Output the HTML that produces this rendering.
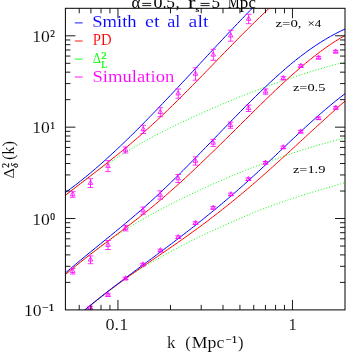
<!DOCTYPE html>
<html><head><meta charset="utf-8"><title>plot</title>
<style>html,body{margin:0;padding:0;background:#fff;}body{width:353px;height:353px;overflow:hidden;position:relative;font-family:"Liberation Serif",serif;}</style>
</head><body>
<svg width="353" height="353" viewBox="0 0 353 353" style="position:absolute;left:0;top:0;will-change:transform">
<defs><clipPath id="c"><rect x="65.40" y="8.30" width="279.60" height="301.60"/></clipPath></defs>
<text x="32.20" y="41.90" font-size="16.50" fill="#000" text-anchor="start" stroke="#fff" stroke-width="0.10" font-family="Liberation Serif, serif" textLength="17.6" lengthAdjust="spacingAndGlyphs" >10</text>
<text x="50.30" y="37.00" font-size="9.50" fill="#000" text-anchor="start" stroke="#000" stroke-width="0.2" font-family="Liberation Serif, serif" >2</text>
<text x="32.20" y="133.40" font-size="16.50" fill="#000" text-anchor="start" stroke="#fff" stroke-width="0.10" font-family="Liberation Serif, serif" textLength="17.6" lengthAdjust="spacingAndGlyphs" >10</text>
<text x="50.30" y="128.50" font-size="9.50" fill="#000" text-anchor="start" stroke="#000" stroke-width="0.2" font-family="Liberation Serif, serif" >1</text>
<text x="32.20" y="224.60" font-size="16.50" fill="#000" text-anchor="start" stroke="#fff" stroke-width="0.10" font-family="Liberation Serif, serif" textLength="17.6" lengthAdjust="spacingAndGlyphs" >10</text>
<text x="50.30" y="219.70" font-size="9.50" fill="#000" text-anchor="start" stroke="#000" stroke-width="0.2" font-family="Liberation Serif, serif" >0</text>
<text x="24.00" y="315.90" font-size="16.50" fill="#000" text-anchor="start" stroke="#fff" stroke-width="0.10" font-family="Liberation Serif, serif" textLength="17.6" lengthAdjust="spacingAndGlyphs" >10</text>
<text x="42.00" y="311.00" font-size="9.50" fill="#000" text-anchor="start" stroke="#000" stroke-width="0.2" font-family="Liberation Serif, serif" textLength="12.5" lengthAdjust="spacingAndGlyphs" >−1</text>
<text x="105.50" y="329.80" font-size="16.50" fill="#000" text-anchor="start" stroke="#fff" stroke-width="0.10" font-family="Liberation Serif, serif" textLength="22.8" lengthAdjust="spacingAndGlyphs" >0.1</text>
<text x="288.60" y="329.80" font-size="16.50" fill="#000" text-anchor="start" stroke="#fff" stroke-width="0.10" font-family="Liberation Serif, serif" textLength="8.3" lengthAdjust="spacingAndGlyphs" >1</text>
<text x="167.00" y="348.40" font-size="16.50" fill="#000" text-anchor="start" stroke="#fff" stroke-width="0.10" font-family="Liberation Serif, serif" textLength="8.5" lengthAdjust="spacingAndGlyphs" >k</text>
<text x="185.30" y="348.40" font-size="16.50" fill="#000" text-anchor="start" stroke="#fff" stroke-width="0.10" font-family="Liberation Serif, serif" textLength="5.5" lengthAdjust="spacingAndGlyphs" >(</text>
<text x="191.70" y="348.40" font-size="16.50" fill="#000" text-anchor="start" stroke="#fff" stroke-width="0.10" font-family="Liberation Serif, serif" textLength="32.6" lengthAdjust="spacingAndGlyphs" >Mpc</text>
<text x="225.60" y="343.30" font-size="9.50" fill="#000" text-anchor="start" stroke="#000" stroke-width="0.2" font-family="Liberation Serif, serif" textLength="11.5" lengthAdjust="spacingAndGlyphs" >−1</text>
<text x="238.00" y="348.40" font-size="16.50" fill="#000" text-anchor="start" stroke="#fff" stroke-width="0.10" font-family="Liberation Serif, serif" textLength="5.5" lengthAdjust="spacingAndGlyphs" >)</text>
<text x="131.60" y="7.70" font-size="16.50" fill="#000" text-anchor="start"  font-family="Liberation Serif, serif" textLength="8.8" lengthAdjust="spacingAndGlyphs" >α</text>
<text x="153.40" y="7.70" font-size="16.50" fill="#000" text-anchor="start"  font-family="Liberation Serif, serif" textLength="9.0" lengthAdjust="spacingAndGlyphs" >0</text>
<text x="162.80" y="7.70" font-size="16.50" fill="#000" text-anchor="start"  font-family="Liberation Serif, serif" textLength="3.6" lengthAdjust="spacingAndGlyphs" >.</text>
<text x="166.30" y="7.70" font-size="16.50" fill="#000" text-anchor="start"  font-family="Liberation Serif, serif" textLength="8.7" lengthAdjust="spacingAndGlyphs" >5</text>
<text x="175.70" y="7.70" font-size="16.50" fill="#000" text-anchor="start"  font-family="Liberation Serif, serif" textLength="3.8" lengthAdjust="spacingAndGlyphs" >,</text>
<text x="187.90" y="7.70" font-size="16.50" fill="#000" text-anchor="start"  font-family="Liberation Serif, serif" textLength="7.5" lengthAdjust="spacingAndGlyphs" >r</text>
<text x="195.40" y="12.20" font-size="9.00" fill="#000" text-anchor="start" stroke="#000" stroke-width="0.2" font-family="Liberation Serif, serif" textLength="3.8" lengthAdjust="spacingAndGlyphs" >s</text>
<text x="211.50" y="7.70" font-size="16.50" fill="#000" text-anchor="start"  font-family="Liberation Serif, serif" textLength="8.5" lengthAdjust="spacingAndGlyphs" >5</text>
<text x="228.10" y="7.70" font-size="16.50" fill="#000" text-anchor="start"  font-family="Liberation Serif, serif" textLength="11.5" lengthAdjust="spacingAndGlyphs" >M</text>
<text x="239.70" y="7.70" font-size="16.50" fill="#000" text-anchor="start"  font-family="Liberation Serif, serif" textLength="8.5" lengthAdjust="spacingAndGlyphs" >p</text>
<text x="248.40" y="7.70" font-size="16.50" fill="#000" text-anchor="start"  font-family="Liberation Serif, serif" textLength="7.4" lengthAdjust="spacingAndGlyphs" >c</text>
<path d="M142.2,3.4 h9 M142.2,5.6 h9 M200.5,3.4 h9.1 M200.5,5.6 h9.1" stroke="#000" stroke-width="0.9" fill="none"/>
<g transform="translate(14,178.6) rotate(-90)">
<text x="0.00" y="0.00" font-size="15.50" fill="#000" text-anchor="start" stroke="#fff" stroke-width="0.10" font-family="Liberation Serif, serif" textLength="10.3" lengthAdjust="spacingAndGlyphs" >Δ</text>
<text x="10.80" y="-5.00" font-size="9.50" fill="#000" text-anchor="start" stroke="#000" stroke-width="0.2" font-family="Liberation Serif, serif" >2</text>
<text x="10.80" y="3.50" font-size="9.50" fill="#000" text-anchor="start" stroke="#000" stroke-width="0.2" font-family="Liberation Serif, serif" font-style="italic">δ</text>
<text x="18.50" y="0.00" font-size="16.50" fill="#000" text-anchor="start" stroke="#fff" stroke-width="0.10" font-family="Liberation Serif, serif" textLength="19.0" lengthAdjust="spacingAndGlyphs" >(k)</text>
</g>
<path d="M74.8,22.90 h7.9" stroke="#0000ff" stroke-width="0.9"/>
<path d="M74.8,41.00 h7.9" stroke="#ff0000" stroke-width="0.9"/>
<path d="M74.8,59.10 h7.9" stroke="#00ff00" stroke-width="0.9"/>
<path d="M74.8,77.00 h7.9" stroke="#ff00ff" stroke-width="0.9"/>
<text x="92.30" y="27.40" font-size="15.80" fill="#0000ff" text-anchor="start" stroke="#fff" stroke-width="0.10" font-family="Liberation Serif, serif" textLength="44.3" lengthAdjust="spacingAndGlyphs" >Smith</text>
<text x="145.00" y="27.40" font-size="15.80" fill="#0000ff" text-anchor="start" stroke="#fff" stroke-width="0.10" font-family="Liberation Serif, serif" textLength="14.5" lengthAdjust="spacingAndGlyphs" >et</text>
<text x="167.30" y="27.40" font-size="15.80" fill="#0000ff" text-anchor="start" stroke="#fff" stroke-width="0.10" font-family="Liberation Serif, serif" textLength="13.1" lengthAdjust="spacingAndGlyphs" >al</text>
<text x="188.60" y="27.40" font-size="15.80" fill="#0000ff" text-anchor="start" stroke="#fff" stroke-width="0.10" font-family="Liberation Serif, serif" textLength="19.8" lengthAdjust="spacingAndGlyphs" >alt</text>
<text x="92.80" y="45.40" font-size="15.80" fill="#ff0000" text-anchor="start" stroke="#fff" stroke-width="0.10" font-family="Liberation Serif, serif" textLength="18.8" lengthAdjust="spacingAndGlyphs" >PD</text>
<text x="92.70" y="63.40" font-size="15.00" fill="#00ff00" text-anchor="start" stroke="#fff" stroke-width="0.10" font-family="Liberation Serif, serif" textLength="8.2" lengthAdjust="spacingAndGlyphs" >Δ</text>
<text x="101.20" y="59.20" font-size="9.30" fill="#00ff00" text-anchor="start" stroke="#00ff00" stroke-width="0.2" font-family="Liberation Serif, serif" textLength="5.4" lengthAdjust="spacingAndGlyphs" >2</text>
<text x="101.20" y="67.70" font-size="9.30" fill="#00ff00" text-anchor="start" stroke="#00ff00" stroke-width="0.2" font-family="Liberation Serif, serif" textLength="5.8" lengthAdjust="spacingAndGlyphs" >L</text>
<text x="92.50" y="81.50" font-size="15.80" fill="#ff00ff" text-anchor="start" stroke="#fff" stroke-width="0.10" font-family="Liberation Serif, serif" textLength="81.8" lengthAdjust="spacingAndGlyphs" >Simulation</text>
<text x="275.50" y="27.00" font-size="10.30" fill="#000" text-anchor="start"  font-family="Liberation Serif, serif" textLength="26.0" lengthAdjust="spacingAndGlyphs" >z=0,</text>
<text x="307.50" y="27.00" font-size="10.30" fill="#000" text-anchor="start"  font-family="Liberation Serif, serif" textLength="13.8" lengthAdjust="spacingAndGlyphs" >×4</text>
<text x="292.90" y="91.00" font-size="10.80" fill="#000" text-anchor="start"  font-family="Liberation Serif, serif" textLength="32.5" lengthAdjust="spacingAndGlyphs" >z=0.5</text>
<text x="292.90" y="173.00" font-size="10.80" fill="#000" text-anchor="start"  font-family="Liberation Serif, serif" textLength="32.5" lengthAdjust="spacingAndGlyphs" >z=1.9</text>
<g clip-path="url(#c)" fill="none">
<path d="M65.50,195.47 L68.00,193.36 L70.50,191.29 L73.00,189.25 L75.50,187.24 L78.00,185.25 L80.50,183.29 L83.00,181.36 L85.50,179.46 L88.00,177.58 L90.50,175.73 L93.00,173.90 L95.50,172.10 L98.00,170.33 L100.50,168.58 L103.00,166.85 L105.50,165.15 L108.00,163.47 L110.50,161.81 L113.00,160.17 L115.50,158.56 L118.00,156.97 L120.50,155.40 L123.00,153.85 L125.50,152.31 L128.00,150.80 L130.50,149.31 L133.00,147.84 L135.50,146.39 L138.00,144.95 L140.50,143.53 L143.00,142.13 L145.50,140.74 L148.00,139.38 L150.50,138.02 L153.00,136.69 L155.50,135.36 L158.00,134.06 L160.50,132.76 L163.00,131.48 L165.50,130.22 L168.00,128.96 L170.50,127.72 L173.00,126.49 L175.50,125.27 L178.00,124.07 L180.50,122.87 L183.00,121.69 L185.50,120.51 L188.00,119.35 L190.50,118.19 L193.00,117.04 L195.50,115.90 L198.00,114.77 L200.50,113.64 L203.00,112.52 L205.50,111.41 L208.00,110.31 L210.50,109.21 L213.00,108.12 L215.50,107.04 L218.00,105.97 L220.50,104.90 L223.00,103.84 L225.50,102.78 L228.00,101.74 L230.50,100.70 L233.00,99.67 L235.50,98.65 L238.00,97.63 L240.50,96.62 L243.00,95.63 L245.50,94.63 L248.00,93.65 L250.50,92.67 L253.00,91.71 L255.50,90.75 L258.00,89.79 L260.50,88.85 L263.00,87.91 L265.50,86.99 L268.00,86.07 L270.50,85.16 L273.00,84.25 L275.50,83.36 L278.00,82.48 L280.50,81.60 L283.00,80.73 L285.50,79.87 L288.00,79.02 L290.50,78.18 L293.00,77.34 L295.50,76.52 L298.00,75.70 L300.50,74.89 L303.00,74.10 L305.50,73.31 L308.00,72.53 L310.50,71.76 L313.00,70.99 L315.50,70.24 L318.00,69.50 L320.50,68.77 L323.00,68.04 L325.50,67.33 L328.00,66.62 L330.50,65.92 L333.00,65.24 L335.50,64.56 L338.00,63.89 L340.50,63.23 L343.00,62.59 L345.50,61.95" stroke="#00ff00" stroke-width="1" stroke-dasharray="1,1.9"/>
<path d="M65.50,274.82 L68.00,272.60 L70.50,270.40 L73.00,268.24 L75.50,266.11 L78.00,264.01 L80.50,261.95 L83.00,259.92 L85.50,257.91 L88.00,255.94 L90.50,254.00 L93.00,252.09 L95.50,250.20 L98.00,248.35 L100.50,246.52 L103.00,244.72 L105.50,242.94 L108.00,241.19 L110.50,239.47 L113.00,237.77 L115.50,236.09 L118.00,234.44 L120.50,232.81 L123.00,231.21 L125.50,229.63 L128.00,228.06 L130.50,226.52 L133.00,225.00 L135.50,223.50 L138.00,222.02 L140.50,220.56 L143.00,219.12 L145.50,217.69 L148.00,216.28 L150.50,214.89 L153.00,213.51 L155.50,212.15 L158.00,210.81 L160.50,209.48 L163.00,208.16 L165.50,206.86 L168.00,205.57 L170.50,204.29 L173.00,203.02 L175.50,201.77 L178.00,200.52 L180.50,199.29 L183.00,198.06 L185.50,196.85 L188.00,195.64 L190.50,194.44 L193.00,193.25 L195.50,192.07 L198.00,190.90 L200.50,189.74 L203.00,188.58 L205.50,187.44 L208.00,186.30 L210.50,185.17 L213.00,184.05 L215.50,182.94 L218.00,181.84 L220.50,180.75 L223.00,179.67 L225.50,178.59 L228.00,177.52 L230.50,176.47 L233.00,175.42 L235.50,174.38 L238.00,173.35 L240.50,172.33 L243.00,171.32 L245.50,170.32 L248.00,169.32 L250.50,168.34 L253.00,167.36 L255.50,166.40 L258.00,165.44 L260.50,164.49 L263.00,163.55 L265.50,162.62 L268.00,161.70 L270.50,160.79 L273.00,159.89 L275.50,159.00 L278.00,158.12 L280.50,157.24 L283.00,156.38 L285.50,155.52 L288.00,154.68 L290.50,153.84 L293.00,153.02 L295.50,152.20 L298.00,151.39 L300.50,150.59 L303.00,149.80 L305.50,149.03 L308.00,148.26 L310.50,147.50 L313.00,146.75 L315.50,146.01 L318.00,145.27 L320.50,144.55 L323.00,143.84 L325.50,143.14 L328.00,142.45 L330.50,141.76 L333.00,141.09 L335.50,140.43 L338.00,139.78 L340.50,139.13 L343.00,138.50 L345.50,137.88" stroke="#00ff00" stroke-width="1" stroke-dasharray="1,1.9"/>
<path d="M84.70,310.18 L87.21,308.26 L89.72,306.33 L92.22,304.37 L94.73,302.39 L97.24,300.41 L99.75,298.41 L102.25,296.42 L104.76,294.42 L107.27,292.43 L109.78,290.46 L112.28,288.49 L114.79,286.55 L117.30,284.64 L119.81,282.75 L122.32,280.89 L124.82,279.08 L127.33,277.31 L129.84,275.58 L132.35,273.91 L134.85,272.28 L137.36,270.70 L139.87,269.15 L142.38,267.64 L144.88,266.16 L147.39,264.71 L149.90,263.27 L152.41,261.85 L154.92,260.44 L157.42,259.04 L159.93,257.64 L162.44,256.23 L164.95,254.83 L167.45,253.43 L169.96,252.04 L172.47,250.66 L174.98,249.29 L177.48,247.94 L179.99,246.61 L182.50,245.30 L185.01,244.01 L187.52,242.74 L190.02,241.49 L192.53,240.24 L195.04,239.01 L197.55,237.80 L200.05,236.59 L202.56,235.39 L205.07,234.20 L207.58,233.02 L210.08,231.85 L212.59,230.69 L215.10,229.54 L217.61,228.39 L220.12,227.25 L222.62,226.12 L225.13,224.99 L227.64,223.86 L230.15,222.75 L232.65,221.63 L235.16,220.52 L237.67,219.41 L240.18,218.31 L242.68,217.21 L245.19,216.14 L247.70,215.07 L250.21,214.03 L252.72,213.00 L255.22,211.99 L257.73,210.99 L260.24,210.01 L262.75,209.04 L265.25,208.09 L267.76,207.15 L270.27,206.22 L272.78,205.31 L275.28,204.41 L277.79,203.52 L280.30,202.64 L282.81,201.78 L285.32,200.92 L287.82,200.08 L290.33,199.24 L292.84,198.41 L295.35,197.60 L297.85,196.79 L300.36,195.99 L302.87,195.19 L305.38,194.41 L307.88,193.63 L310.39,192.86 L312.90,192.09 L315.41,191.33 L317.92,190.57 L320.42,189.82 L322.93,189.07 L325.44,188.33 L327.95,187.59 L330.45,186.85 L332.96,186.11 L335.47,185.38 L337.98,184.65 L340.48,183.92 L342.99,183.19 L345.50,182.46" stroke="#00ff00" stroke-width="1" stroke-dasharray="1,1.9"/>
<path d="M65.50,195.21 L67.99,193.29 L70.48,191.37 L72.97,189.45 L75.45,187.53 L77.94,185.62 L80.43,183.70 L82.92,181.79 L85.41,179.87 L87.90,177.95 L90.38,176.03 L92.87,174.10 L95.36,172.17 L97.85,170.23 L100.34,168.29 L102.83,166.34 L105.31,164.38 L107.80,162.41 L110.29,160.42 L112.78,158.43 L115.27,156.43 L117.76,154.41 L120.24,152.38 L122.73,150.34 L125.22,148.28 L127.71,146.20 L130.20,144.10 L132.69,141.99 L135.17,139.86 L137.66,137.71 L140.15,135.53 L142.64,133.34 L145.13,131.12 L147.62,128.89 L150.10,126.63 L152.59,124.35 L155.08,122.06 L157.57,119.74 L160.06,117.41 L162.55,115.05 L165.03,112.68 L167.52,110.30 L170.01,107.89 L172.50,105.48 L174.99,103.04 L177.48,100.59 L179.97,98.12 L182.45,95.64 L184.94,93.15 L187.43,90.65 L189.92,88.13 L192.41,85.61 L194.90,83.07 L197.38,80.53 L199.87,77.98 L202.36,75.43 L204.85,72.87 L207.34,70.30 L209.83,67.74 L212.31,65.17 L214.80,62.60 L217.29,60.03 L219.78,57.46 L222.27,54.90 L224.76,52.34 L227.24,49.78 L229.73,47.23 L232.22,44.68 L234.71,42.14 L237.20,39.61 L239.69,37.09 L242.17,34.58 L244.66,32.08 L247.15,29.59 L249.64,27.12 L252.13,24.66 L254.62,22.22 L257.10,19.79 L259.59,17.38 L262.08,14.99 L264.57,12.61 L267.06,10.26 L269.55,7.93 L272.03,5.63 L274.52,3.34 L277.01,1.08 L279.50,-1.15" stroke="#ff0000" stroke-width="1"/>
<path d="M65.50,274.40 L68.00,272.29 L70.50,270.21 L73.00,268.15 L75.50,266.12 L78.00,264.11 L80.50,262.11 L83.00,260.14 L85.50,258.18 L88.00,256.24 L90.50,254.31 L93.00,252.39 L95.50,250.48 L98.00,248.59 L100.50,246.70 L103.00,244.82 L105.50,242.94 L108.00,241.07 L110.50,239.20 L113.00,237.32 L115.50,235.45 L118.00,233.58 L120.50,231.70 L123.00,229.82 L125.50,227.93 L128.00,226.03 L130.50,224.12 L133.00,222.20 L135.50,220.27 L138.00,218.33 L140.50,216.37 L143.00,214.39 L145.50,212.39 L148.00,210.38 L150.50,208.34 L153.00,206.28 L155.50,204.20 L158.00,202.09 L160.50,199.97 L163.00,197.82 L165.50,195.66 L168.00,193.48 L170.50,191.28 L173.00,189.06 L175.50,186.82 L178.00,184.57 L180.50,182.30 L183.00,180.02 L185.50,177.72 L188.00,175.40 L190.50,173.07 L193.00,170.73 L195.50,168.38 L198.00,166.01 L200.50,163.64 L203.00,161.25 L205.50,158.85 L208.00,156.44 L210.50,154.03 L213.00,151.60 L215.50,149.17 L218.00,146.73 L220.50,144.28 L223.00,141.83 L225.50,139.37 L228.00,136.90 L230.50,134.43 L233.00,131.96 L235.50,129.48 L238.00,127.01 L240.50,124.52 L243.00,122.04 L245.50,119.56 L248.00,117.08 L250.50,114.60 L253.00,112.12 L255.50,109.65 L258.00,107.19 L260.50,104.73 L263.00,102.29 L265.50,99.85 L268.00,97.42 L270.50,95.01 L273.00,92.62 L275.50,90.23 L278.00,87.87 L280.50,85.52 L283.00,83.19 L285.50,80.89 L288.00,78.60 L290.50,76.34 L293.00,74.10 L295.50,71.89 L298.00,69.71 L300.50,67.56 L303.00,65.43 L305.50,63.34 L308.00,61.28 L310.50,59.25 L313.00,57.26 L315.50,55.31 L318.00,53.39 L320.50,51.51 L323.00,49.68 L325.50,47.88 L328.00,46.13 L330.50,44.42 L333.00,42.76 L335.50,41.14 L338.00,39.58 L340.50,38.06 L343.00,36.59 L345.50,35.18" stroke="#ff0000" stroke-width="1"/>
<path d="M84.70,310.22 L87.21,308.11 L89.72,306.03 L92.22,303.97 L94.73,301.94 L97.24,299.94 L99.75,297.95 L102.25,295.99 L104.76,294.05 L107.27,292.14 L109.78,290.24 L112.28,288.36 L114.79,286.50 L117.30,284.65 L119.81,282.82 L122.32,281.01 L124.82,279.21 L127.33,277.42 L129.84,275.64 L132.35,273.87 L134.85,272.12 L137.36,270.37 L139.87,268.63 L142.38,266.89 L144.88,265.17 L147.39,263.44 L149.90,261.72 L152.41,260.00 L154.92,258.29 L157.42,256.57 L159.93,254.86 L162.44,253.14 L164.95,251.42 L167.45,249.70 L169.96,247.97 L172.47,246.24 L174.98,244.50 L177.48,242.75 L179.99,241.00 L182.50,239.24 L185.01,237.46 L187.52,235.68 L190.02,233.88 L192.53,232.07 L195.04,230.24 L197.55,228.41 L200.05,226.55 L202.56,224.69 L205.07,222.81 L207.58,220.92 L210.08,219.01 L212.59,217.09 L215.10,215.16 L217.61,213.21 L220.12,211.25 L222.62,209.28 L225.13,207.29 L227.64,205.29 L230.15,203.27 L232.65,201.24 L235.16,199.19 L237.67,197.13 L240.18,195.06 L242.68,192.97 L245.19,190.87 L247.70,188.75 L250.21,186.62 L252.72,184.47 L255.22,182.31 L257.73,180.13 L260.24,177.94 L262.75,175.74 L265.25,173.52 L267.76,171.29 L270.27,169.05 L272.78,166.80 L275.28,164.53 L277.79,162.26 L280.30,159.98 L282.81,157.70 L285.32,155.40 L287.82,153.11 L290.33,150.80 L292.84,148.50 L295.35,146.19 L297.85,143.88 L300.36,141.56 L302.87,139.25 L305.38,136.94 L307.88,134.63 L310.39,132.32 L312.90,130.01 L315.41,127.71 L317.92,125.42 L320.42,123.13 L322.93,120.84 L325.44,118.57 L327.95,116.30 L330.45,114.04 L332.96,111.79 L335.47,109.55 L337.98,107.33 L340.48,105.11 L342.99,102.91 L345.50,100.73" stroke="#ff0000" stroke-width="1"/>
<path d="M65.50,192.44 L67.99,190.63 L70.49,188.79 L72.98,186.91 L75.47,185.01 L77.97,183.07 L80.46,181.10 L82.96,179.11 L85.45,177.08 L87.94,175.03 L90.44,172.95 L92.93,170.84 L95.42,168.71 L97.92,166.55 L100.41,164.37 L102.91,162.16 L105.40,159.93 L107.89,157.67 L110.39,155.39 L112.88,153.09 L115.37,150.77 L117.87,148.43 L120.36,146.07 L122.85,143.69 L125.35,141.29 L127.84,138.87 L130.34,136.43 L132.83,133.98 L135.32,131.50 L137.82,129.02 L140.31,126.52 L142.80,124.00 L145.30,121.47 L147.79,118.92 L150.28,116.37 L152.78,113.80 L155.27,111.21 L157.77,108.62 L160.26,106.02 L162.75,103.41 L165.25,100.78 L167.74,98.15 L170.23,95.52 L172.73,92.87 L175.22,90.22 L177.72,87.56 L180.21,84.89 L182.70,82.22 L185.20,79.55 L187.69,76.87 L190.18,74.19 L192.68,71.51 L195.17,68.82 L197.66,66.14 L200.16,63.45 L202.65,60.76 L205.15,58.08 L207.64,55.39 L210.13,52.71 L212.63,50.03 L215.12,47.35 L217.61,44.68 L220.11,42.01 L222.60,39.34 L225.09,36.69 L227.59,34.03 L230.08,31.39 L232.58,28.75 L235.07,26.12 L237.56,23.50 L240.06,20.89 L242.55,18.28 L245.04,15.69 L247.54,13.11 L250.03,10.55 L252.53,7.99 L255.02,5.45 L257.51,2.92 L260.01,0.40 L262.50,-2.10" stroke="#0000ff" stroke-width="1"/>
<path d="M65.50,272.90 L68.00,270.74 L70.50,268.60 L73.00,266.48 L75.50,264.37 L78.00,262.27 L80.50,260.19 L83.00,258.12 L85.50,256.05 L88.00,254.00 L90.50,251.95 L93.00,249.91 L95.50,247.87 L98.00,245.84 L100.50,243.81 L103.00,241.78 L105.50,239.75 L108.00,237.71 L110.50,235.68 L113.00,233.64 L115.50,231.59 L118.00,229.54 L120.50,227.48 L123.00,225.41 L125.50,223.33 L128.00,221.23 L130.50,219.13 L133.00,217.01 L135.50,214.87 L138.00,212.72 L140.50,210.55 L143.00,208.36 L145.50,206.15 L148.00,203.92 L150.50,201.66 L153.00,199.38 L155.50,197.08 L158.00,194.76 L160.50,192.41 L163.00,190.04 L165.50,187.66 L168.00,185.25 L170.50,182.83 L173.00,180.39 L175.50,177.94 L178.00,175.47 L180.50,172.98 L183.00,170.49 L185.50,167.98 L188.00,165.46 L190.50,162.93 L193.00,160.39 L195.50,157.84 L198.00,155.28 L200.50,152.72 L203.00,150.15 L205.50,147.57 L208.00,145.00 L210.50,142.41 L213.00,139.83 L215.50,137.25 L218.00,134.66 L220.50,132.08 L223.00,129.49 L225.50,126.91 L228.00,124.33 L230.50,121.76 L233.00,119.19 L235.50,116.63 L238.00,114.07 L240.50,111.53 L243.00,108.99 L245.50,106.47 L248.00,103.95 L250.50,101.45 L253.00,98.97 L255.50,96.50 L258.00,94.06 L260.50,91.63 L263.00,89.22 L265.50,86.83 L268.00,84.46 L270.50,82.12 L273.00,79.81 L275.50,77.52 L278.00,75.26 L280.50,73.03 L283.00,70.83 L285.50,68.67 L288.00,66.53 L290.50,64.43 L293.00,62.37 L295.50,60.35 L298.00,58.36 L300.50,56.41 L303.00,54.51 L305.50,52.64 L308.00,50.82 L310.50,49.04 L313.00,47.30 L315.50,45.61 L318.00,43.96 L320.50,42.36 L323.00,40.80 L325.50,39.28 L328.00,37.81 L330.50,36.39 L333.00,35.01 L335.50,33.68 L338.00,32.40 L340.50,31.17 L343.00,29.98 L345.50,28.84" stroke="#0000ff" stroke-width="1"/>
<path d="M84.30,310.31 L86.79,308.24 L89.28,306.19 L91.76,304.16 L94.25,302.14 L96.74,300.14 L99.23,298.16 L101.71,296.19 L104.20,294.24 L106.69,292.30 L109.18,290.37 L111.66,288.45 L114.15,286.54 L116.64,284.65 L119.13,282.76 L121.61,280.88 L124.10,279.01 L126.59,277.15 L129.08,275.29 L131.56,273.43 L134.05,271.58 L136.54,269.74 L139.03,267.90 L141.52,266.05 L144.00,264.21 L146.49,262.37 L148.98,260.53 L151.47,258.69 L153.95,256.85 L156.44,255.00 L158.93,253.15 L161.42,251.29 L163.90,249.43 L166.39,247.56 L168.88,245.69 L171.37,243.81 L173.85,241.92 L176.34,240.03 L178.83,238.13 L181.32,236.22 L183.80,234.30 L186.29,232.38 L188.78,230.44 L191.27,228.50 L193.76,226.55 L196.24,224.59 L198.73,222.62 L201.22,220.64 L203.71,218.65 L206.19,216.64 L208.68,214.63 L211.17,212.60 L213.66,210.56 L216.14,208.51 L218.63,206.45 L221.12,204.37 L223.61,202.28 L226.09,200.18 L228.58,198.06 L231.07,195.93 L233.56,193.79 L236.04,191.63 L238.53,189.45 L241.02,187.26 L243.51,185.05 L246.00,182.82 L248.48,180.58 L250.97,178.32 L253.46,176.05 L255.95,173.76 L258.43,171.46 L260.92,169.14 L263.41,166.81 L265.90,164.48 L268.38,162.13 L270.87,159.78 L273.36,157.43 L275.85,155.07 L278.33,152.71 L280.82,150.35 L283.31,147.99 L285.80,145.63 L288.28,143.27 L290.77,140.92 L293.26,138.58 L295.75,136.24 L298.24,133.91 L300.72,131.60 L303.21,129.29 L305.70,127.00 L308.19,124.73 L310.67,122.47 L313.16,120.22 L315.65,118.00 L318.14,115.80 L320.62,113.62 L323.11,111.46 L325.60,109.33 L328.09,107.23 L330.57,105.15 L333.06,103.10 L335.55,101.08 L338.04,99.10 L340.52,97.14 L343.01,95.23 L345.50,93.35" stroke="#0000ff" stroke-width="1"/>
<path d="M72.70,191.70 L70.40,195.80 L75.00,195.80 Z" stroke="#ff00ff" stroke-width="0.8"/>
<path d="M72.70,191.70 V197.30 M69.90,191.70 h5.6 M69.90,197.30 h5.6" stroke="#ff00ff" stroke-width="0.8"/>
<path d="M90.50,180.30 L88.20,184.40 L92.80,184.40 Z" stroke="#ff00ff" stroke-width="0.8"/>
<path d="M90.50,178.70 V187.50 M87.70,178.70 h5.6 M87.70,187.50 h5.6" stroke="#ff00ff" stroke-width="0.8"/>
<path d="M108.00,163.30 L105.70,167.40 L110.30,167.40 Z" stroke="#ff00ff" stroke-width="0.8"/>
<path d="M108.00,160.60 V171.60 M105.20,160.60 h5.6 M105.20,171.60 h5.6" stroke="#ff00ff" stroke-width="0.8"/>
<path d="M125.50,147.20 L123.20,151.30 L127.80,151.30 Z" stroke="#ff00ff" stroke-width="0.8"/>
<path d="M125.50,147.00 V153.00 M122.70,147.00 h5.6 M122.70,153.00 h5.6" stroke="#ff00ff" stroke-width="0.8"/>
<path d="M143.30,126.60 L141.00,130.70 L145.60,130.70 Z" stroke="#ff00ff" stroke-width="0.8"/>
<path d="M143.30,125.30 V133.50 M140.50,125.30 h5.6 M140.50,133.50 h5.6" stroke="#ff00ff" stroke-width="0.8"/>
<path d="M160.30,109.40 L158.00,113.50 L162.60,113.50 Z" stroke="#ff00ff" stroke-width="0.8"/>
<path d="M160.30,107.70 V116.70 M157.50,107.70 h5.6 M157.50,116.70 h5.6" stroke="#ff00ff" stroke-width="0.8"/>
<path d="M178.20,90.80 L175.90,94.90 L180.50,94.90 Z" stroke="#ff00ff" stroke-width="0.8"/>
<path d="M178.20,89.00 V98.20 M175.40,89.00 h5.6 M175.40,98.20 h5.6" stroke="#ff00ff" stroke-width="0.8"/>
<path d="M195.50,71.20 L193.20,75.30 L197.80,75.30 Z" stroke="#ff00ff" stroke-width="0.8"/>
<path d="M195.50,67.80 V80.20 M192.70,67.80 h5.6 M192.70,80.20 h5.6" stroke="#ff00ff" stroke-width="0.8"/>
<path d="M213.30,52.00 L211.00,56.10 L215.60,56.10 Z" stroke="#ff00ff" stroke-width="0.8"/>
<path d="M213.30,49.30 V60.30 M210.50,49.30 h5.6 M210.50,60.30 h5.6" stroke="#ff00ff" stroke-width="0.8"/>
<path d="M230.70,32.90 L228.40,37.00 L233.00,37.00 Z" stroke="#ff00ff" stroke-width="0.8"/>
<path d="M230.70,30.20 V41.20 M227.90,30.20 h5.6 M227.90,41.20 h5.6" stroke="#ff00ff" stroke-width="0.8"/>
<path d="M248.60,16.20 L246.30,20.30 L250.90,20.30 Z" stroke="#ff00ff" stroke-width="0.8"/>
<path d="M248.60,14.30 V23.70 M245.80,14.30 h5.6 M245.80,23.70 h5.6" stroke="#ff00ff" stroke-width="0.8"/>
<path d="M72.70,268.40 L70.40,272.50 L75.00,272.50 Z" stroke="#ff00ff" stroke-width="0.8"/>
<path d="M72.70,268.40 V274.00 M69.90,268.40 h5.6 M69.90,274.00 h5.6" stroke="#ff00ff" stroke-width="0.8"/>
<path d="M90.50,257.00 L88.20,261.10 L92.80,261.10 Z" stroke="#ff00ff" stroke-width="0.8"/>
<path d="M90.50,255.90 V263.70 M87.70,255.90 h5.6 M87.70,263.70 h5.6" stroke="#ff00ff" stroke-width="0.8"/>
<path d="M108.00,242.20 L105.70,246.30 L110.30,246.30 Z" stroke="#ff00ff" stroke-width="0.8"/>
<path d="M108.00,240.50 V249.50 M105.20,240.50 h5.6 M105.20,249.50 h5.6" stroke="#ff00ff" stroke-width="0.8"/>
<path d="M125.60,225.30 L123.30,229.40 L127.90,229.40 Z" stroke="#ff00ff" stroke-width="0.8"/>
<path d="M125.60,225.30 V230.90 M122.80,225.30 h5.6 M122.80,230.90 h5.6" stroke="#ff00ff" stroke-width="0.8"/>
<path d="M143.10,207.80 L140.80,211.90 L145.40,211.90 Z" stroke="#ff00ff" stroke-width="0.8"/>
<path d="M143.10,207.00 V214.20 M140.30,207.00 h5.6 M140.30,214.20 h5.6" stroke="#ff00ff" stroke-width="0.8"/>
<path d="M160.20,192.20 L157.90,196.30 L162.50,196.30 Z" stroke="#ff00ff" stroke-width="0.8"/>
<path d="M160.20,190.80 V199.20 M157.40,190.80 h5.6 M157.40,199.20 h5.6" stroke="#ff00ff" stroke-width="0.8"/>
<path d="M178.10,175.70 L175.80,179.80 L180.40,179.80 Z" stroke="#ff00ff" stroke-width="0.8"/>
<path d="M178.10,174.50 V182.50 M175.30,174.50 h5.6 M175.30,182.50 h5.6" stroke="#ff00ff" stroke-width="0.8"/>
<path d="M195.50,158.20 L193.20,162.30 L197.80,162.30 Z" stroke="#ff00ff" stroke-width="0.8"/>
<path d="M195.50,156.90 V165.10 M192.70,156.90 h5.6 M192.70,165.10 h5.6" stroke="#ff00ff" stroke-width="0.8"/>
<path d="M213.20,140.10 L210.90,144.20 L215.50,144.20 Z" stroke="#ff00ff" stroke-width="0.8"/>
<path d="M213.20,139.40 V146.40 M210.40,139.40 h5.6 M210.40,146.40 h5.6" stroke="#ff00ff" stroke-width="0.8"/>
<path d="M230.50,122.40 L228.20,126.50 L232.80,126.50 Z" stroke="#ff00ff" stroke-width="0.8"/>
<path d="M230.50,122.10 V128.30 M227.70,122.10 h5.6 M227.70,128.30 h5.6" stroke="#ff00ff" stroke-width="0.8"/>
<path d="M248.50,105.50 L246.20,109.60 L250.80,109.60 Z" stroke="#ff00ff" stroke-width="0.8"/>
<path d="M248.50,105.10 V111.50 M245.70,105.10 h5.6 M245.70,111.50 h5.6" stroke="#ff00ff" stroke-width="0.8"/>
<path d="M265.60,88.80 L263.30,92.90 L267.90,92.90 Z" stroke="#ff00ff" stroke-width="0.8"/>
<path d="M265.60,89.00 V94.20 M262.80,89.00 h5.6 M262.80,94.20 h5.6" stroke="#ff00ff" stroke-width="0.8"/>
<path d="M283.30,75.50 L281.00,79.60 L285.60,79.60 Z" stroke="#ff00ff" stroke-width="0.8"/>
<path d="M283.30,76.70 V79.90 M280.50,76.70 h5.6 M280.50,79.90 h5.6" stroke="#ff00ff" stroke-width="0.8"/>
<path d="M300.90,63.20 L298.60,67.30 L303.20,67.30 Z" stroke="#ff00ff" stroke-width="0.8"/>
<path d="M300.90,64.70 V67.30 M298.10,64.70 h5.6 M298.10,67.30 h5.6" stroke="#ff00ff" stroke-width="0.8"/>
<path d="M318.50,54.90 L316.20,59.00 L320.80,59.00 Z" stroke="#ff00ff" stroke-width="0.8"/>
<path d="M318.50,56.40 V59.00 M315.70,56.40 h5.6 M315.70,59.00 h5.6" stroke="#ff00ff" stroke-width="0.8"/>
<path d="M335.70,48.90 L333.40,53.00 L338.00,53.00 Z" stroke="#ff00ff" stroke-width="0.8"/>
<path d="M335.70,50.40 V53.00 M332.90,50.40 h5.6 M332.90,53.00 h5.6" stroke="#ff00ff" stroke-width="0.8"/>
<path d="M90.20,304.90 L87.90,309.00 L92.50,309.00 Z" stroke="#ff00ff" stroke-width="0.8"/>
<path d="M90.20,306.40 V309.00 M87.40,306.40 h5.6 M87.40,309.00 h5.6" stroke="#ff00ff" stroke-width="0.8"/>
<path d="M108.00,292.20 L105.70,296.30 L110.30,296.30 Z" stroke="#ff00ff" stroke-width="0.8"/>
<path d="M108.00,293.70 V296.30 M105.20,293.70 h5.6 M105.20,296.30 h5.6" stroke="#ff00ff" stroke-width="0.8"/>
<path d="M125.60,275.70 L123.30,279.80 L127.90,279.80 Z" stroke="#ff00ff" stroke-width="0.8"/>
<path d="M125.60,277.20 V279.80 M122.80,277.20 h5.6 M122.80,279.80 h5.6" stroke="#ff00ff" stroke-width="0.8"/>
<path d="M142.90,261.80 L140.60,265.90 L145.20,265.90 Z" stroke="#ff00ff" stroke-width="0.8"/>
<path d="M142.90,263.30 V265.90 M140.10,263.30 h5.6 M140.10,265.90 h5.6" stroke="#ff00ff" stroke-width="0.8"/>
<path d="M160.40,247.70 L158.10,251.80 L162.70,251.80 Z" stroke="#ff00ff" stroke-width="0.8"/>
<path d="M160.40,249.20 V251.80 M157.60,249.20 h5.6 M157.60,251.80 h5.6" stroke="#ff00ff" stroke-width="0.8"/>
<path d="M178.20,234.40 L175.90,238.50 L180.50,238.50 Z" stroke="#ff00ff" stroke-width="0.8"/>
<path d="M178.20,235.90 V238.50 M175.40,235.90 h5.6 M175.40,238.50 h5.6" stroke="#ff00ff" stroke-width="0.8"/>
<path d="M195.50,220.30 L193.20,224.40 L197.80,224.40 Z" stroke="#ff00ff" stroke-width="0.8"/>
<path d="M195.50,221.80 V224.40 M192.70,221.80 h5.6 M192.70,224.40 h5.6" stroke="#ff00ff" stroke-width="0.8"/>
<path d="M213.20,205.10 L210.90,209.20 L215.50,209.20 Z" stroke="#ff00ff" stroke-width="0.8"/>
<path d="M213.20,206.60 V209.20 M210.40,206.60 h5.6 M210.40,209.20 h5.6" stroke="#ff00ff" stroke-width="0.8"/>
<path d="M230.90,191.60 L228.60,195.70 L233.20,195.70 Z" stroke="#ff00ff" stroke-width="0.8"/>
<path d="M230.90,193.10 V195.70 M228.10,193.10 h5.6 M228.10,195.70 h5.6" stroke="#ff00ff" stroke-width="0.8"/>
<path d="M248.40,176.40 L246.10,180.50 L250.70,180.50 Z" stroke="#ff00ff" stroke-width="0.8"/>
<path d="M248.40,177.90 V180.50 M245.60,177.90 h5.6 M245.60,180.50 h5.6" stroke="#ff00ff" stroke-width="0.8"/>
<path d="M265.50,160.00 L263.20,164.10 L267.80,164.10 Z" stroke="#ff00ff" stroke-width="0.8"/>
<path d="M265.50,161.50 V164.10 M262.70,161.50 h5.6 M262.70,164.10 h5.6" stroke="#ff00ff" stroke-width="0.8"/>
<path d="M283.30,144.60 L281.00,148.70 L285.60,148.70 Z" stroke="#ff00ff" stroke-width="0.8"/>
<path d="M283.30,146.10 V148.70 M280.50,146.10 h5.6 M280.50,148.70 h5.6" stroke="#ff00ff" stroke-width="0.8"/>
<path d="M300.70,128.90 L298.40,133.00 L303.00,133.00 Z" stroke="#ff00ff" stroke-width="0.8"/>
<path d="M300.70,130.40 V133.00 M297.90,130.40 h5.6 M297.90,133.00 h5.6" stroke="#ff00ff" stroke-width="0.8"/>
<path d="M318.50,115.50 L316.20,119.60 L320.80,119.60 Z" stroke="#ff00ff" stroke-width="0.8"/>
<path d="M318.50,117.00 V119.60 M315.70,117.00 h5.6 M315.70,119.60 h5.6" stroke="#ff00ff" stroke-width="0.8"/>
<path d="M335.80,105.10 L333.50,109.20 L338.10,109.20 Z" stroke="#ff00ff" stroke-width="0.8"/>
<path d="M335.80,106.60 V109.20 M333.00,106.60 h5.6 M333.00,109.20 h5.6" stroke="#ff00ff" stroke-width="0.8"/>
</g>
<g stroke="#000" stroke-width="0.9" fill="none">
<rect x="65.40" y="8.30" width="279.60" height="301.60" stroke-width="1"/>
<path d="M79.22,309.90 v-5.00 M79.22,8.30 v5.00 M90.90,309.90 v-5.00 M90.90,8.30 v5.00 M101.02,309.90 v-5.00 M101.02,8.30 v5.00 M109.95,309.90 v-5.00 M109.95,8.30 v5.00 M117.94,309.90 v-10.00 M117.94,8.30 v10.00 M170.47,309.90 v-5.00 M170.47,8.30 v5.00 M201.21,309.90 v-5.00 M201.21,8.30 v5.00 M223.01,309.90 v-5.00 M223.01,8.30 v5.00 M239.93,309.90 v-5.00 M239.93,8.30 v5.00 M253.74,309.90 v-5.00 M253.74,8.30 v5.00 M265.43,309.90 v-5.00 M265.43,8.30 v5.00 M275.55,309.90 v-5.00 M275.55,8.30 v5.00 M284.48,309.90 v-5.00 M284.48,8.30 v5.00 M292.46,309.90 v-10.00 M292.46,8.30 v10.00 M65.40,282.40 h5.00 M345.00,282.40 h-5.00 M65.40,266.31 h5.00 M345.00,266.31 h-5.00 M65.40,254.89 h5.00 M345.00,254.89 h-5.00 M65.40,246.04 h5.00 M345.00,246.04 h-5.00 M65.40,238.80 h5.00 M345.00,238.80 h-5.00 M65.40,232.69 h5.00 M345.00,232.69 h-5.00 M65.40,227.39 h5.00 M345.00,227.39 h-5.00 M65.40,222.72 h5.00 M345.00,222.72 h-5.00 M65.40,218.53 h10.00 M345.00,218.53 h-10.00 M65.40,191.03 h5.00 M345.00,191.03 h-5.00 M65.40,174.94 h5.00 M345.00,174.94 h-5.00 M65.40,163.53 h5.00 M345.00,163.53 h-5.00 M65.40,154.67 h5.00 M345.00,154.67 h-5.00 M65.40,147.44 h5.00 M345.00,147.44 h-5.00 M65.40,141.32 h5.00 M345.00,141.32 h-5.00 M65.40,136.02 h5.00 M345.00,136.02 h-5.00 M65.40,131.35 h5.00 M345.00,131.35 h-5.00 M65.40,127.17 h10.00 M345.00,127.17 h-10.00 M65.40,99.67 h5.00 M345.00,99.67 h-5.00 M65.40,83.58 h5.00 M345.00,83.58 h-5.00 M65.40,72.16 h5.00 M345.00,72.16 h-5.00 M65.40,63.31 h5.00 M345.00,63.31 h-5.00 M65.40,56.07 h5.00 M345.00,56.07 h-5.00 M65.40,49.96 h5.00 M345.00,49.96 h-5.00 M65.40,44.66 h5.00 M345.00,44.66 h-5.00 M65.40,39.98 h5.00 M345.00,39.98 h-5.00 M65.40,35.80 h10.00 M345.00,35.80 h-10.00"/>
</g>
</svg>
</body></html>
